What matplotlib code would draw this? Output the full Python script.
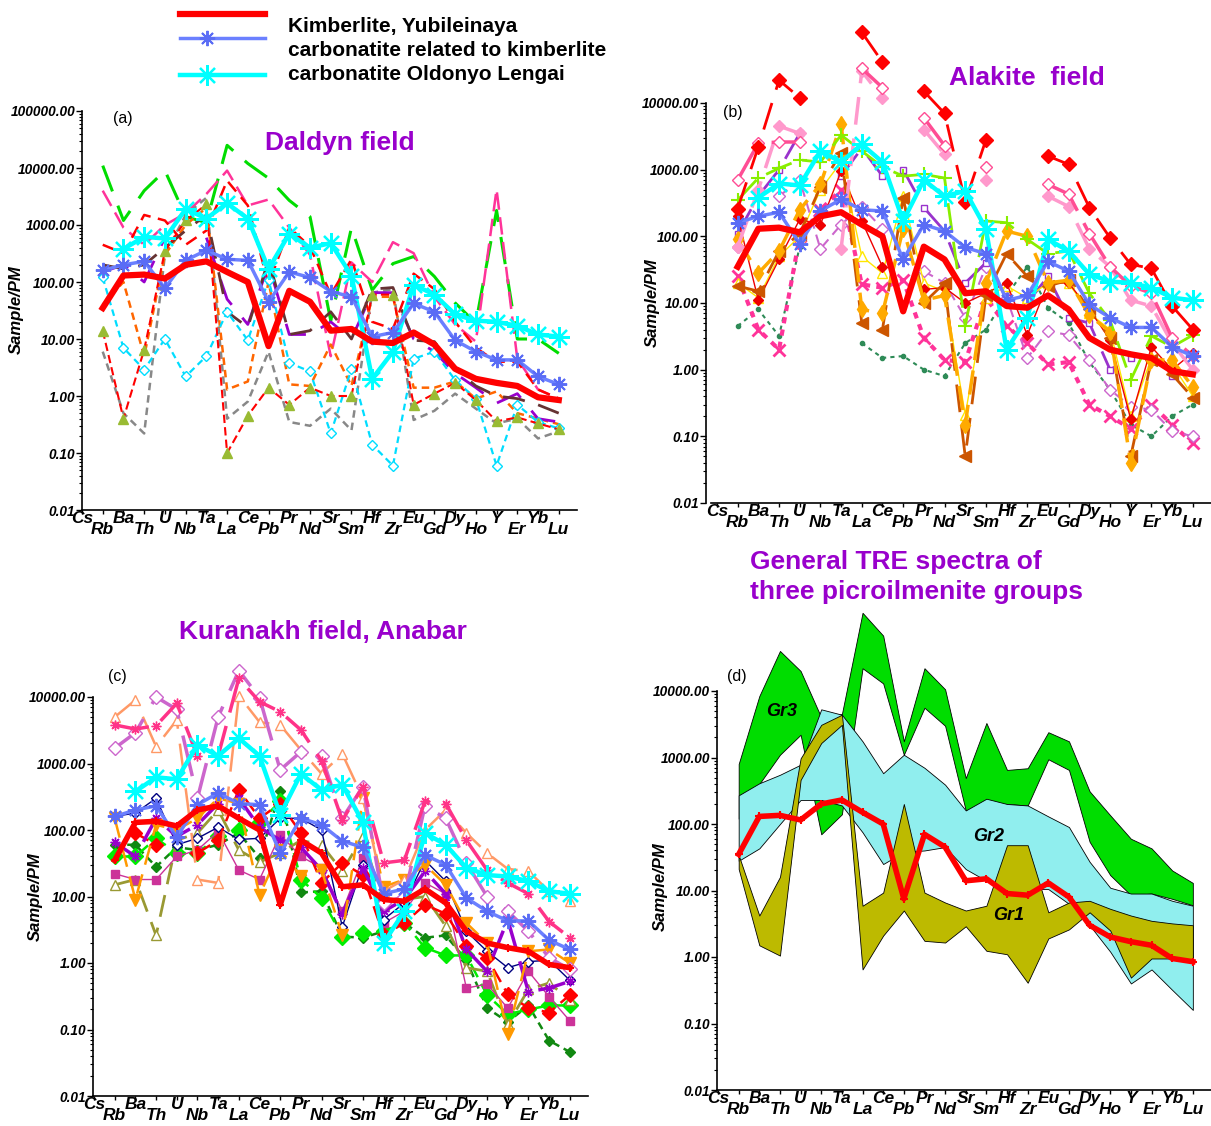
import numpy as np
import matplotlib
matplotlib.use('Agg')
import matplotlib.pyplot as plt
from matplotlib.lines import Line2D
from matplotlib.ticker import LogLocator, NullFormatter, FixedLocator

nan = np.nan

elements = ['Cs', 'Rb', 'Ba', 'Th', 'U', 'Nb', 'Ta', 'La', 'Ce', 'Pb', 'Pr', 'Nd',
            'Sr', 'Sm', 'Hf', 'Zr', 'Eu', 'Gd', 'Dy', 'Ho', 'Y', 'Er', 'Yb', 'Lu']

# reference spectra (same in every panel)
kimberlite = [nan, 35, 130, 135, 115, 200, 230, 150, 100, 7.5, 70, 45, 14, 15, 9, 8.5, 13, 8, 3, 2, 1.7, 1.5, 0.95, 0.85]
carb_kimb = [nan, 160, 200, 230, 78, 240, 360, 250, 240, 45, 150, 120, 68, 55, 11, 13, 42, 30, 9.5, 6, 4.3, 4.3, 2.2, 1.6]
carb_ol = [nan, nan, 380, 620, 580, 1900, 1300, 2400, 1300, 170, 700, 400, 480, 130, 2, 6, 90, 60, 27, 21, 20, 17, 12, 11]

# (a) Daldyn field
a_green = [nan, 11000, 1200, 4000, 9000, 1400, 1100, 25000, 12000, 6600, 2700, 1400, 21, 900, 72, 210, 280, 125, 43, 19, 1800, 10, 10, 5.6]
a_pink = [nan, 4000, 900, 450, 1000, 1600, 3500, 9000, 2200, 2800, 900, 300, 5, 220, 100, 500, 320, 55, 18, 9, 4200, 4.5, 1.3, 0.9]
a_red = [nan, 450, 320, 1500, 1200, 450, 800, 6000, 2200, 90, 900, 420, 60, 250, 20, 15, 140, 75, 20, 7, 4, 4, 1.3, 0.9]
a_tri = [nan, 14, 0.4, 6.5, 350, 1200, 2300, 0.1, 0.45, 1.4, 0.7, 1.4, 1.0, 1.0, 60, 60, 0.7, 1.1, 1.7, 0.85, 0.36, 0.42, 0.33, 0.26]
a_cyan = [nan, 120, 7, 2.9, 10, 2.2, 5, 30, 9.5, 110, 3.8, 2.7, 0.22, 3, 0.14, 0.06, 4.5, 6, 1.9, 0.9, 0.06, 0.7, 0.35, 0.27]
a_orange = [nan, 40, 100, 5, 300, 1000, 2000, 1.3, 1.8, 100, 1.6, 1.5, 8, 1.5, 55, 55, 1.4, 1.4, 1.8, 0.9, 1.2, 0.5, 0.4, 0.32]
a_gray = [nan, 6, 0.5, 0.22, 300, 1500, 3000, 0.4, 0.8, 6, 0.35, 0.3, 0.6, 0.25, 65, 75, 0.38, 0.55, 1.1, 0.6, 0.33, 0.4, 0.18, 0.24]
a_purple = [nan, 150, 200, 100, 600, nan, 600, 50, 18, 200, 12, 12, 20, 10, 65, 65, 10, 6, 2.5, 1.4, 0.75, 1.1, 0.4, 0.35]
a_brown = [nan, 200, 170, 200, 400, 800, 1500, 30, 16, 250, 12, 14, 30, 10, 75, 80, 9.5, 9, 3, 1.5, 1.0, 0.9, 0.7, 0.5]

# (b) Alakite field
b_red = [nan, 260, 2200, 22000, 12000, nan, nan, 115000, 41000, nan, 15000, 7000, 330, 2800, nan, nan, 1600, 1200, 270, 95, 38, 33, 9, 4]
b_pink = [nan, 700, 2500, 2600, 2600, nan, nan, 33000, 17000, nan, 6000, 2300, nan, 1100, nan, nan, 600, 430, 110, 35, 18, 14, 3, 1.6]
b_lpink = [nan, 70, 500, 4500, 3500, nan, 65, 30000, 12000, nan, 4000, 1700, nan, 700, nan, nan, 400, 280, 65, 35, 11, 9, 2.5, 1.0]
b_lime = [nan, 350, 750, 1050, 1400, 1300, 3300, 1900, 1100, 800, 850, 750, 4.5, 170, 160, 90, 55, 60, 14, 5.5, 0.7, 3.2, 2.2, 3.3]
b_orange = [nan, 90, 28, 60, 250, 600, 4800, 8, 7, 130, 11, 13, 0.15, 20, 120, 100, 20, 22, 6.5, 3.7, 0.04, 1.4, 1.4, 0.55]
b_brown = [nan, 18, 15, 60, 110, 550, 1800, 5, 4, 380, 10, 20, 0.05, 13, 55, 25, 18, 22, 8, 3, 0.05, 1.4, 0.85, 0.38]
b_xpink = [nan, 25, 4, 2, 100, 250, 500, 19, 17, 22, 3, 1.4, 1.3, 12, 4.5, 2.5, 1.2, 1.3, 0.3, 0.2, 0.13, 0.3, 0.15, 0.08]
b_dgreen = [nan, 4.5, 8, 3.2, 70, nan, nan, 2.5, 1.5, 1.6, 1.0, 0.8, 2.5, 4, 13, 35, 8.5, 5, 1.3, 0.5, 0.15, 0.1, 0.2, 0.3]
b_purple = [nan, 110, 400, 1000, 3500, nan, 800, 2100, 800, 1000, 270, 120, 20, 40, 12, 10, 25, 6, 5, 1.0, 1.5, nan, 0.8, nan]
b_orchid = [nan, 70, nan, 400, 700, 65, 150, 280, 130, nan, 30, 20, 6, 35, 12, 1.5, 3.8, 3.3, 1.4, 0.5, 0.28, 0.25, 0.12, 0.1]
b_yellow = [nan, 20, 12, 50, 100, 500, 1300, 50, 28, 400, 20, 15, 0.21, 12, 18, 12, 20, 20, 7, 4, 0.2, 1.5, 1.2, 0.4]
b_redthin = [nan, 200, 11, 45, 180, 150, 950, 170, 35, nan, 16, 17, 10, 14, 20, 3.3, 20, 20, 8, 2.8, 0.18, 2.2, 1.0, 1.8]

# (c) Kuranakh field, Anabar
c_pink = [nan, 3800, 3300, 3700, 8000, 1300, 1300, 19000, 8500, 6000, 3200, 1100, 140, 450, 32, 35, 270, 250, 70, 25, 16, 11, 4.2, 2.4]
c_orchid = [nan, 1700, 2900, 10000, 6500, 300, 5000, 25000, 9800, 800, 1500, 1300, 150, 450, 8, 10, 230, 150, 32, 10, 6, 3, 1.2, 0.8]
c_lorange = [nan, 5000, 9000, 1800, 4500, 18, 16, 10500, 4200, 3800, 1600, 700, 1400, 300, 12, 18, 100, 200, 90, 45, 26, 24, 12, 8.5]
c_olive = [nan, 15, 18, 2.6, 70, 90, 200, 50, 33, 45, 70, 60, 24, 80, 7.5, 9, 10, 3.6, 0.85, 0.75, 0.12, 0.4, 0.5, 0.28]
c_green = [nan, 40, 40, 75, 45, 45, 80, 100, 130, 270, 18, 9.5, 2.5, 2.8, 3, 4, 1.7, 1.3, 1.3, 0.33, 0.17, 0.2, 0.23, 0.23]
c_dgreen = [nan, 60, 60, 28, 55, 50, 60, 90, 38, 380, 11.5, 12, 2.5, 2.4, 3, 4, 2.4, 2.6, 1.1, 0.21, 0.13, 0.23, 0.068, 0.046]
c_magenta = [nan, 22, 18, 18, 40, 50, 95, 25, 18, 85, 40, 27, 6, 38, 4, 6, 16, 11, 0.42, 0.48, 0.21, 0.75, 0.31, 0.135]
c_navy = [nan, 160, 180, 300, 60, 75, 110, 72, 75, 150, 150, 100, 3.5, 30, 4.5, 8, 35, 17, 3, 1.5, 0.85, 1.05, 1.1, 0.55]
c_red = [nan, nan, 90, 60, nan, 45, 70, 400, 150, 250, 90, 16, 32, 21, 2.6, 4, 7.5, 5.5, 1.8, 1.2, 0.34, 0.21, 0.18, 0.33]
c_purple = [nan, 65, 40, 150, 80, 120, 250, 300, 110, 70, 55, 25, 5.5, 27, 6, 9, 24, 11, 1.6, 0.75, 4.5, 0.37, 0.42, 0.53]
c_orange = [nan, 150, 9, 120, 100, 150, 300, 250, 10.5, 50, 20, 25, 2.6, 300, 14, 18, 30, 15, 4, 2, 0.085, 1.5, 1.6, 1.0]

# (d) picroilmenite group envelopes
gr3_hi = [nan, 800, 8400, 40000, 20000, 4000, 4500, 150000, 68000, 1750, 22000, 10600, 490, 3300, 650, 690, 2400, 1750, 310, 135, 60, 43, 20, 13]
gr3_lo = [nan, 120, 400, 1100, 2200, 70, 140, 22000, 13000, 1100, 5600, 3000, 160, 200, 200, 190, 940, 650, 54, 17, 8.5, 9, 7.5, 6]
gr2_hi = [nan, 270, 410, 550, 780, 5300, 4400, 1750, 580, 1100, 700, 390, 160, 240, 200, 190, 130, 90, 27, 11, 9, 9, 7, 5.9]
gr2_lo = [nan, 28, 43, 100, 230, 230, 190, 75, 25, 38, 40, 45, 21, 14, 11, 10.5, 10.5, 6.3, 3, 1.2, 0.4, 0.65, 0.32, 0.16]
gr1_hi = [nan, 34, 4.2, 16, 970, 3100, 4400, 5.9, 9.3, 200, 9.3, 6.6, 5, 5.9, 48, 48, 4.7, 6.6, 7, 5.3, 4.2, 3.5, 3.2, 3.0]
gr1_lo = [nan, 21, 1.5, 1.05, 460, 1650, 3100, 0.65, 2.1, 5, 1.75, 1.65, 2.9, 1.24, 1.1, 0.41, 1.9, 2.6, 4.7, 2.5, 0.49, 0.95, 0.95, 0.9]

plt.rcParams['font.family'] = ['Liberation Sans', 'DejaVu Sans']

W, H = 1211, 1126
fig = plt.figure(figsize=(W / 100, H / 100), dpi=100)
x = np.arange(len(elements))
purple = '#9900CC'


def box(left, top, right, bottom):
    return [left / W, 1 - bottom / H, (right - left) / W, (bottom - top) / H]


def ftext(px, py, s, **kw):
    fig.text(px / W, 1 - py / H, s, **kw)


def setup(ax, xmin, ymin, ymax, xstart=None):
    ax.set_yscale('log')
    ax.set_xlim(xmin, 23.88)
    ax.set_ylim(ymin, ymax)
    ax.patch.set_alpha(0)
    for s in ['top', 'right']:
        ax.spines[s].set_visible(False)
    for s in ['left', 'bottom']:
        ax.spines[s].set_linewidth(1.2)
    if xstart is not None:
        ax.spines['bottom'].set_bounds(xstart, 23.88)
    majors = [10.0 ** k for k in range(int(np.log10(ymin)), int(np.log10(ymax)) + 1)]
    ax.yaxis.set_major_locator(FixedLocator(majors))
    ax.set_yticklabels(['%.2f' % v for v in majors], fontsize=9.8,
                       fontweight='bold', fontstyle='italic')
    ax.yaxis.set_minor_locator(LogLocator(base=10, subs=np.arange(2, 10)))
    ax.yaxis.set_minor_formatter(NullFormatter())
    ax.tick_params(axis='y', which='major', length=4, width=1, pad=1)
    ax.tick_params(axis='y', which='minor', length=2.2, width=0.8)
    ax.set_xticks(x)
    ax.set_xticklabels([])
    ax.tick_params(axis='x', length=3, width=1)
    for i, el in enumerate(elements):
        ax.annotate(el, xy=(i, 0), xycoords=('data', 'axes fraction'),
                    xytext=(0, -9.5 if i % 2 == 0 else -17.5), textcoords='offset points',
                    ha='center', va='baseline', fontsize=12.5, fontweight='bold',
                    fontstyle='italic', annotation_clip=False)


def series(ax, vals, **kw):
    ax.plot(x, vals, clip_on=False, zorder=2, **kw)


def reference(ax, kimb_marker=False):
    ax.plot(x, carb_ol, color='#00FFFF', lw=3.2, marker=(8, 2, 0), ms=15, mew=1.6,
            zorder=4, clip_on=False)
    ax.plot(x, carb_kimb, color='#6B80FF', lw=2.5, marker=(8, 2, 0), ms=11, mew=1.4,
            mec='#5A6CF5', zorder=5, clip_on=False)
    if kimb_marker:
        ax.plot(x, kimberlite, color='#FF0000', lw=4, marker='+', ms=6, mew=1.5,
                zorder=6, clip_on=False)
    else:
        ax.plot(x, kimberlite, color='#FF0000', lw=4.5, zorder=6, clip_on=False)


# ---- panel (a)
ax = fig.add_axes(box(82, 111, 577, 510))
setup(ax, 0, 0.01, 1e5)
series(ax, a_green, color='#00DD00', lw=2.2, dashes=(9, 5))
series(ax, a_pink, color='#FF3399', lw=1.8, dashes=(7, 3))
series(ax, a_red, color='#FF0000', lw=1.8, dashes=(5, 3))
series(ax, a_gray, color='#888888', lw=1.8, dashes=(3, 2))
series(ax, a_orange, color='#FF6600', lw=1.8, dashes=(3, 2))
series(ax, a_purple, color=purple, lw=2, dashes=(10, 6))
series(ax, a_brown, color='#663333', lw=2, dashes=(8, 5))
series(ax, a_cyan, color='#00DDFF', lw=1.6, dashes=(3, 2), marker='D', ms=5,
       mfc='white', mec='#00DDFF')
series(ax, a_tri, color='#FF0000', lw=1.5, dashes=(4, 2), marker='^', ms=7,
       mfc='#99BB33', mec='#99BB33')
reference(ax)

# ---- panel (b)
ax = fig.add_axes(box(706, 103, 1211, 503))
setup(ax, -0.53, 0.01, 1e4, xstart=-0.3)
series(ax, b_dgreen, color='#2E8B57', lw=1.5, dashes=(2, 2), marker='o', ms=3)
series(ax, b_xpink, color='#FF3399', lw=3, dashes=(1.5, 1.5), marker='x', ms=8, mew=2)
series(ax, b_orchid, color='#CC66CC', lw=1.5, dashes=(5, 3), marker='D', ms=6,
       mfc='white', mec='#CC66CC')
series(ax, b_purple, color='#9933CC', lw=2, dashes=(10, 6), marker='s', ms=4,
       mfc='white', mec='#9933CC')
series(ax, b_yellow, color='#FFE600', lw=1, marker='^', ms=7, mfc='white', mec='#FFE600')
series(ax, b_redthin, color='#EE0000', lw=1, marker='D', ms=5)
series(ax, b_brown, color='#CC5500', lw=2, dashes=(10, 5), marker='<', ms=8)
series(ax, b_orange, color='#FFAA00', lw=2.5, dashes=(7, 3), marker='d', ms=8)
series(ax, b_lime, color='#88EE00', lw=2, dashes=(10, 4), marker='+', ms=10, mew=1.5)
series(ax, b_lpink, color='#FF99CC', lw=2.5, dashes=(8, 4), marker='D', ms=6)
series(ax, b_pink, color='#FF4D94', lw=2.5, dashes=(12, 4), marker='D', ms=6,
       mfc='white', mec='#FF4D94')
series(ax, b_red, color='#FF0000', lw=2, dashes=(10, 5), marker='D', ms=7)
reference(ax)

# ---- panel (c)
ax = fig.add_axes(box(93, 697, 588, 1096))
setup(ax, -0.05, 0.01, 1e4)
series(ax, c_dgreen, color='#118811', lw=1.8, dashes=(3, 2), marker='D', ms=5)
series(ax, c_green, color='#00EE00', lw=1.8, dashes=(6, 3), marker='D', ms=8)
series(ax, c_olive, color='#999933', lw=2, dashes=(8, 4), marker='^', ms=7,
       mfc='white', mec='#999933')
series(ax, c_magenta, color='#CC3399', lw=1, marker='s', ms=6)
series(ax, c_navy, color='#000080', lw=1, marker='D', ms=5, mfc='white', mec='#000080')
series(ax, c_red, color='#FF0000', lw=1.8, dashes=(6, 3), marker='D', ms=7)
series(ax, c_purple, color=purple, lw=2.5, dashes=(8, 4), marker=(8, 2, 0), ms=7)
series(ax, c_orange, color='#FF9900', lw=1.8, dashes=(8, 4), marker='v', ms=8)
series(ax, c_lorange, color='#FF9966', lw=1.8, dashes=(12, 6), marker='^', ms=7,
       mfc='white', mec='#FF9966')
series(ax, c_orchid, color='#CC66CC', lw=2.5, dashes=(12, 5), marker='D', ms=7,
       mfc='white', mec='#CC66CC')
series(ax, c_pink, color='#FF3388', lw=2.5, dashes=(10, 4), marker=(8, 2, 0), ms=7)
reference(ax, kimb_marker=True)

# ---- panel (d)
ax = fig.add_axes(box(717, 691, 1211, 1090))
setup(ax, -0.05, 0.01, 1e4)
ax.fill_between(x, gr3_lo, gr3_hi, facecolor='#00DD00', edgecolor='black', lw=0.6,
                zorder=2, clip_on=False)
ax.fill_between(x, gr2_lo, gr2_hi, facecolor='#90EEEE', edgecolor='black', lw=0.6,
                zorder=3, clip_on=False)
ax.fill_between(x, gr1_lo, gr1_hi, facecolor='#BDBA00', edgecolor='black', lw=0.6,
                zorder=4, clip_on=False)
ax.plot(x, kimberlite, color='#FF0000', lw=4, marker='+', ms=6, mew=1.5,
        zorder=6, clip_on=False)
for s, px, py in [('Gr3', 3.1, 5000), ('Gr2', 13.1, 66), ('Gr1', 14.1, 4.2)]:
    ax.text(px, py, s, fontsize=13, fontweight='bold', fontstyle='italic',
            ha='center', va='center', zorder=7)

# ---- titles and panel letters
tkw = dict(color=purple, fontsize=19, fontweight='bold', va='center')
ftext(340, 143, 'Daldyn field', ha='center', **tkw)
ftext(1027, 78, 'Alakite  field', ha='center', **tkw)
ftext(323, 632, 'Kuranakh field, Anabar', ha='center', **tkw)
ftext(750, 562, 'General TRE spectra of', ha='left', **tkw)
ftext(750, 592, 'three picroilmenite groups', ha='left', **tkw)

for s, px, py in [('(a)', 123, 119), ('(b)', 733, 112), ('(c)', 117, 677), ('(d)', 737, 677)]:
    ftext(px, py, s, fontsize=11.5, ha='center', va='center')

for px, py in [(16, 310), (652, 303), (35, 897), (660, 887)]:
    ftext(px, py, 'Sample/PM', fontsize=12, fontweight='bold', fontstyle='italic',
          rotation=90, ha='center', va='center')

# ---- legend at the top
def legline(y, **kw):
    fig.add_artist(Line2D([180 / W, 265 / W], [1 - y / H] * 2, **kw))


legline(14, color='#FF0000', lw=4.5)
legline(38, color='#6B80FF', lw=2.5)
legline(75, color='#00FFFF', lw=3.2)
fig.add_artist(Line2D([207 / W], [1 - 38 / H], marker=(8, 2, 0), ms=11, mew=1.4,
                      color='#5A6CF5'))
fig.add_artist(Line2D([207 / W], [1 - 75 / H], marker=(8, 2, 0), ms=15, mew=1.6,
                      color='#00FFFF'))
lkw = dict(fontsize=15, fontweight='bold', ha='left', va='center')
ftext(288, 26, 'Kimberlite, Yubileinaya', **lkw)
ftext(288, 50, 'carbonatite related to kimberlite', **lkw)
ftext(288, 75, 'carbonatite Oldonyo Lengai', **lkw)

fig.savefig('out.png', dpi=100)
